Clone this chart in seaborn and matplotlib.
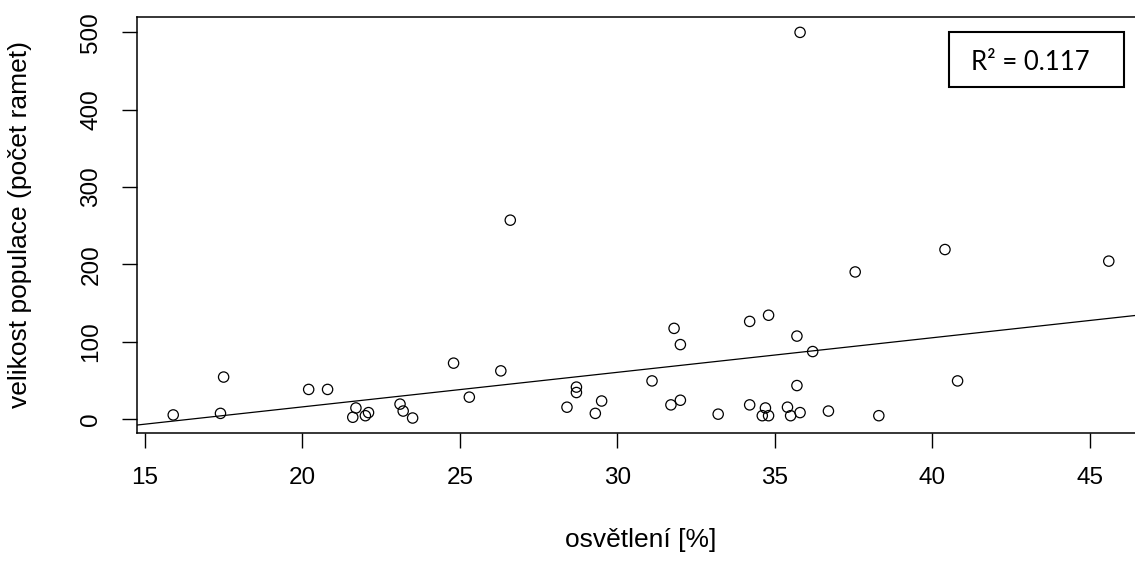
import matplotlib.pyplot as plt
import matplotlib as mpl
from matplotlib.patches import Rectangle
import pandas as pd
import seaborn as sns

sns.set_style("white")
plt.rcParams['font.family'] = ['Liberation Sans', 'DejaVu Sans']
mpl.rcParams['axes.unicode_minus'] = False

# values
osvetleni = [15.9, 17.5, 17.4, 20.2, 20.8, 21.7, 21.6, 22.0, 22.1, 23.1, 23.2, 23.5,
             24.8, 25.3, 26.3, 26.6, 28.4, 28.7, 28.7, 29.3, 29.5, 31.1, 31.8, 32.0,
             31.7, 32.0, 33.2, 34.2, 34.8, 34.2, 34.6, 34.8, 34.7, 35.7, 36.2, 35.7,
             35.4, 35.5, 35.8, 36.7, 38.3, 40.8, 35.8, 37.55, 40.4, 45.6]
velikost = [5, 54, 7, 38, 38, 14, 2, 4, 8, 19, 10, 1,
            72, 28, 62, 257, 15, 41, 34, 7, 23, 49, 117, 96,
            18, 24, 6, 126, 134, 18, 4, 4, 14, 107, 87, 43,
            15, 4, 8, 10, 4, 49, 500, 190, 219, 204]
x_ticks = [15, 20, 25, 30, 35, 40, 45]
y_ticks = [0, 100, 200, 300, 400, 500]
r2_text = "R² = 0.117"

df = pd.DataFrame({"osvetleni": osvetleni, "velikost": velikost})

fig = plt.figure(figsize=(11.35, 5.66), dpi=100)
# right edge of the plot box lies just outside the picture, as in the reference
ax = fig.add_axes([137 / 1135, (566 - 432.7) / 566, 1008 / 1135, 415.4 / 566])

xlim = (14.75, 46.75)
ylim = (-18, 519.5)
ax.set_xlim(xlim)
ax.set_ylim(ylim)

sns.scatterplot(data=df, x="osvetleni", y="velikost", ax=ax, s=55,
                facecolor="none", edgecolor="black", linewidth=0.9, zorder=3)
sns.regplot(data=df, x="osvetleni", y="velikost", ax=ax, scatter=False,
            ci=None, truncate=False, line_kws={"color": "black", "lw": 0.9})

ax.set_xlim(xlim)
ax.set_ylim(ylim)
ax.set_xticks(x_ticks)
ax.set_yticks(y_ticks)

for s in ax.spines.values():
    s.set_color("black")
    s.set_linewidth(1.1)

ax.tick_params(axis="x", bottom=True, direction="out", length=11, width=1.0, pad=14,
               labelsize=17.5, colors="black")
ax.tick_params(axis="y", left=True, direction="out", length=11, width=1.0, pad=14,
               labelsize=17.5, colors="black")
plt.setp(ax.get_yticklabels(), rotation=90, va="center")

ax.set_xlabel("osvětlení [%]", fontsize=19, color="black")
ax.set_ylabel("velikost populace (počet ramet)", fontsize=19, color="black")
ax.xaxis.set_label_coords(0.5, -0.229)
ax.yaxis.set_label_coords(-0.104, 0.5)

# R² box, drawn in figure pixels
fig.patches.append(Rectangle((949 / 1135, (566 - 86.7) / 566), 175.3 / 1135, 55 / 566,
                             transform=fig.transFigure, fill=False,
                             edgecolor="black", linewidth=1.5))
fig.text(970.7 / 1135, (566 - 70) / 566, r2_text, fontsize=18.5, family=["Lato", "DejaVu Sans"],
         ha="left", va="baseline", color="black")

fig.savefig("out.png", dpi=100)
